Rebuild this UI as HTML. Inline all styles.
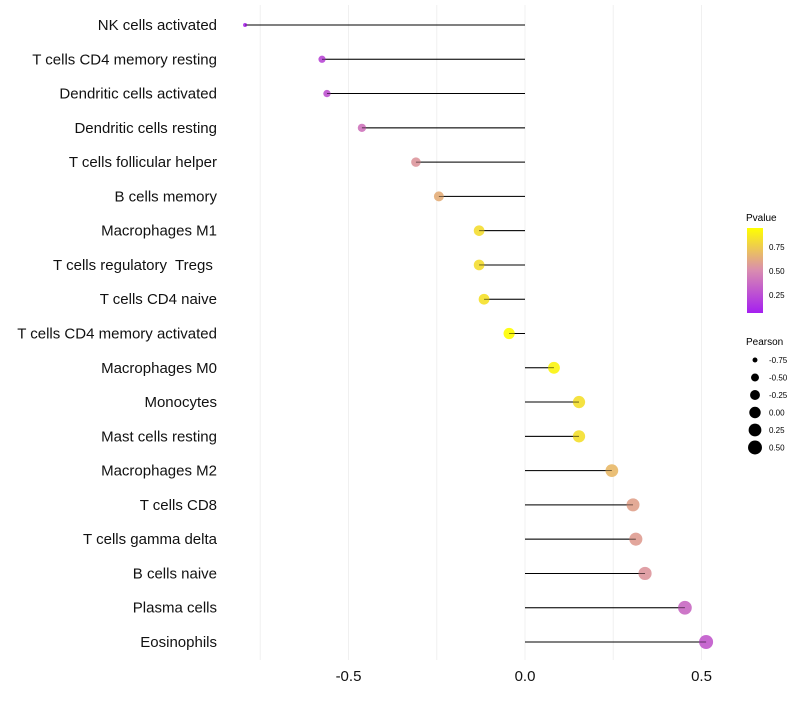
<!DOCTYPE html>
<html><head><meta charset="utf-8"><style>
body{margin:0;background:#fff;font-family:"Liberation Sans",sans-serif}
text{white-space:pre}
</style></head><body>
<svg id="c" width="800" height="700" xmlns="http://www.w3.org/2000/svg">
<defs><linearGradient id="pg" x1="0" y1="1" x2="0" y2="0">
<stop offset="0" stop-color="#a51ff0"/><stop offset="0.5" stop-color="#d98cb0"/><stop offset="1" stop-color="#ffff00"/>
</linearGradient></defs>
<g id="grid"></g><g id="marks"></g><g id="labels"></g>
<g>
<text x="746" y="221" font-size="10">Pvalue</text>
<rect x="747" y="228" width="16" height="85" fill="url(#pg)"/>
<text x="769" y="250" font-size="8">0.75</text>
<text x="769" y="274" font-size="8">0.50</text>
<text x="769" y="298" font-size="8">0.25</text>
</g>
<g id="sizeleg">
<text x="746" y="345" font-size="10">Pearson</text>
</g>
</svg>
<script>
const categories=["NK cells activated","T cells CD4 memory resting","Dendritic cells activated","Dendritic cells resting","T cells follicular helper","B cells memory","Macrophages M1","T cells regulatory  Tregs ","T cells CD4 naive","T cells CD4 memory activated","Macrophages M0","Monocytes","Mast cells resting","Macrophages M2","T cells CD8","T cells gamma delta","B cells naive","Plasma cells","Eosinophils"];
const pearson=[-0.793,-0.575,-0.561,-0.462,-0.309,-0.244,-0.130,-0.130,-0.116,-0.045,0.082,0.153,0.153,0.246,0.306,0.314,0.340,0.453,0.513];
const pvalues=[0.05,0.2,0.25,0.4,0.55,0.65,0.85,0.85,0.87,0.99,0.95,0.86,0.86,0.7,0.6,0.58,0.55,0.35,0.28];
const xTicks=[-0.5,0.0,0.5];
const xTickLabels=["-0.5","0.0","0.5"];
const sizeLegend=[-0.75,-0.5,-0.25,0,0.25,0.5];
const sizeLegendLabels=["-0.75","-0.50","-0.25","0.00","0.25","0.50"];
const NS="http://www.w3.org/2000/svg";
const x=v=>525+v*353;
const y=i=>25+i*(617/18);
const pmin=Math.min(...pearson),pmax=Math.max(...pearson);
const r=v=>{const t=Math.max(0,(v-pmin)/(pmax-pmin));return 1+Math.sqrt(1+35*t);};
function lerp(a,b,t){return a.map((c,i)=>Math.round(c+(b[i]-c)*t));}
function col(p){const A=[165,31,240],B=[217,140,176],C=[255,255,0];
const c=p<0.5?lerp(A,B,p/0.5):lerp(B,C,(p-0.5)/0.5);return `rgb(${c})`;}
function mk(t,a,parent){const e=document.createElementNS(NS,t);for(const k in a)e.setAttribute(k,a[k]);parent.appendChild(e);return e;}
const grid=document.getElementById('grid'),marks=document.getElementById('marks'),labels=document.getElementById('labels');
[-0.75,-0.5,-0.25,0,0.25,0.5].forEach(v=>{const l=mk('line',{x1:x(v),x2:x(v),y1:5,y2:660,stroke:'#f0f0f0','stroke-width':1},grid);

});
xTicks.forEach((v,i)=>{const t=mk('text',{x:x(v),y:681,'font-size':15,'text-anchor':'middle',fill:'#111'},labels);t.textContent=xTickLabels[i];

});
categories.forEach((c,i)=>{
const t=mk('text',{x:217,y:y(i)+5,'font-size':15,'text-anchor':'end',fill:'#111'},labels);t.textContent=c;


const l=mk('line',{x1:x(0),x2:x(pearson[i]),y1:y(i),y2:y(i),stroke:'#000','stroke-width':1},marks);


const d=mk('circle',{cx:x(pearson[i]),cy:y(i),r:r(pearson[i]),fill:col(pvalues[i]),'fill-opacity':0.92},marks);


const l2=mk('line',{x1:x(0),x2:x(pearson[i]),y1:y(i),y2:y(i),stroke:'#000','stroke-width':0.8,'stroke-opacity':0.6},marks);


});
const sl=document.getElementById('sizeleg');
sizeLegend.forEach((v,i)=>{const cy=360+i*17.5;
const c=mk('circle',{cx:755,cy:cy,r:r(v),fill:'#000'},sl);


const t=mk('text',{x:769,y:cy+3,'font-size':8},sl);t.textContent=sizeLegendLabels[i];

});
</script>
</body></html>
